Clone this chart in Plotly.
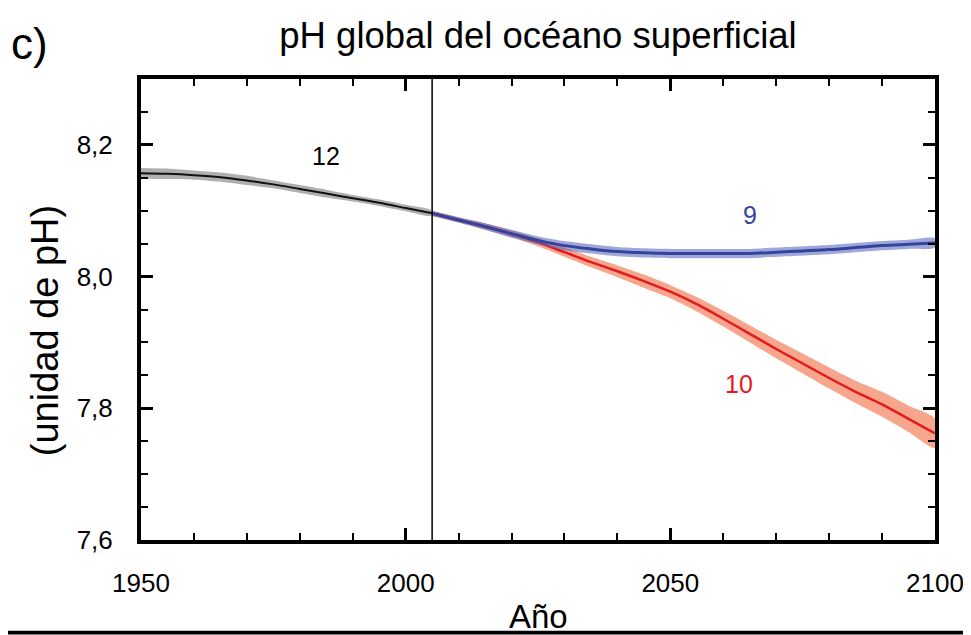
import plotly.graph_objects as go

# ---- data ----
hist_years = [1950, 1955, 1960, 1965, 1970, 1975, 1980, 1985, 1990, 1995, 2000, 2005]
hist_ph = [8.157, 8.156, 8.154, 8.151, 8.146, 8.140, 8.133, 8.126, 8.119, 8.112, 8.104, 8.096]
hist_unc = [0.008, 0.008, 0.007, 0.007, 0.007, 0.006, 0.006, 0.006, 0.005, 0.005, 0.005, 0.004]

proj_years = [2005, 2010, 2015, 2020, 2025, 2030, 2035, 2040, 2045, 2050,
              2055, 2060, 2065, 2070, 2075, 2080, 2085, 2090, 2095, 2100]
rcp26_ph = [8.096, 8.086, 8.076, 8.065, 8.055, 8.047, 8.042, 8.038, 8.036, 8.035,
            8.035, 8.035, 8.035, 8.037, 8.039, 8.041, 8.044, 8.047, 8.049, 8.051]
rcp26_unc = [0.004, 0.004, 0.005, 0.006, 0.006, 0.007, 0.007, 0.007, 0.007, 0.007,
             0.007, 0.007, 0.007, 0.007, 0.007, 0.007, 0.007, 0.007, 0.007, 0.007]
rcp85_ph = [8.096, 8.086, 8.076, 8.065, 8.052, 8.037, 8.022, 8.008, 7.993, 7.977,
            7.958, 7.936, 7.913, 7.890, 7.868, 7.846, 7.825, 7.806, 7.784, 7.762]
rcp85_unc = [0.004, 0.004, 0.005, 0.005, 0.006, 0.007, 0.008, 0.009, 0.010, 0.010,
             0.011, 0.012, 0.013, 0.014, 0.015, 0.016, 0.017, 0.019, 0.020, 0.022]

hist_count, rcp26_count, rcp85_count = "12", "9", "10"
transition_year = 2005

x_ticks = [1950, 2000, 2050, 2100]
y_ticks = [7.6, 7.8, 8.0, 8.2]

FONT = "Liberation Sans, Arial, sans-serif"

def band(xs, mid, unc):
    up = [m + u for m, u in zip(mid, unc)]
    lo = [m - u for m, u in zip(mid, unc)]
    return list(xs) + list(xs)[::-1], up + lo[::-1]

fig = go.Figure()

for xs, mid, unc, fillc, linec, lw in [
    (hist_years, hist_ph, hist_unc, "rgba(110,110,110,0.55)", "#111111", 2),
    (proj_years, rcp85_ph, rcp85_unc, "rgba(243,150,120,0.85)", "#e5191e", 2.5),
    (proj_years, rcp26_ph, rcp26_unc, "rgba(80,95,185,0.55)", "#34449c", 3),
]:
    bx, by = band(xs, mid, unc)
    fig.add_trace(go.Scatter(x=bx, y=by, fill="toself", fillcolor=fillc,
                             line=dict(width=0, shape="spline", smoothing=0.8),
                             mode="lines", hoverinfo="skip", showlegend=False))
    fig.add_trace(go.Scatter(x=xs, y=mid, mode="lines",
                             line=dict(color=linec, width=lw, shape="spline", smoothing=0.8),
                             showlegend=False))

fig.add_shape(type="line", x0=transition_year, x1=transition_year, y0=0, y1=1,
              xref="x", yref="y domain", line=dict(color="black", width=1.5))

fig.add_annotation(x=1985, y=8.183, text=hist_count, showarrow=False,
                   font=dict(size=25, color="black", family=FONT))
fig.add_annotation(x=2065, y=8.093, text=rcp26_count, showarrow=False,
                   font=dict(size=25, color="#34449c", family=FONT))
fig.add_annotation(x=2063, y=7.837, text=rcp85_count, showarrow=False,
                   font=dict(size=25, color="#e5191e", family=FONT))

fig.add_annotation(xref="paper", yref="paper", x=-0.14, y=1.078, text="c)",
                   showarrow=False, xanchor="center", yanchor="middle",
                   font=dict(size=44, color="black", family=FONT))

# axis titles
fig.add_annotation(xref="paper", yref="paper", x=-0.121, y=0.455, text="(unidad de pH)",
                   textangle=-90, showarrow=False, xanchor="center", yanchor="middle",
                   font=dict(size=38, color="black", family=FONT))
fig.add_annotation(xref="paper", yref="paper", x=0.5, y=-0.166, text="Año",
                   showarrow=False, xanchor="center", yanchor="middle",
                   font=dict(size=33, color="black", family=FONT))

# bottom border line of the image
fig.add_shape(type="rect", xref="paper", yref="paper", x0=-0.18, x1=1.05,
              y0=-0.205, y1=-0.197, line=dict(width=0), fillcolor="black")

axis_common = dict(showline=True, linecolor="black", linewidth=4, mirror="ticks",
                   ticks="inside", tickcolor="black", showgrid=False, zeroline=False,
                   automargin=False,
                   tickfont=dict(size=26, color="black", family=FONT))

# page body adds an 8px offset, so the figure is 8px smaller than the window
fig.update_layout(
    width=963, height=627,
    margin=dict(l=133, r=36, t=71, b=95),
    paper_bgcolor="white", plot_bgcolor="white",
    separators=", ",
    title=dict(text="pH global del océano superficial", x=0.5, xref="paper",
               y=1 - 27 / 627, yref="container", xanchor="center", yanchor="middle",
               font=dict(size=36.5, color="black", family=FONT)),
    xaxis=dict(range=[1950, 2100], tickvals=x_ticks, ticklen=12, tickwidth=3,
               ticklabelstandoff=17,
               minor=dict(dtick=10, tick0=1950, ticklen=7, tickwidth=2, ticks="inside",
                          tickcolor="black"),
               **axis_common),
    yaxis=dict(range=[7.6, 8.3], tickvals=y_ticks, tickformat=".1f", ticklen=12,
               tickwidth=3, ticklabelstandoff=19,
               minor=dict(dtick=0.05, tick0=7.6, ticklen=7, tickwidth=2, ticks="inside",
                          tickcolor="black"),
               **axis_common),
)

fig.write_html("out.html")
